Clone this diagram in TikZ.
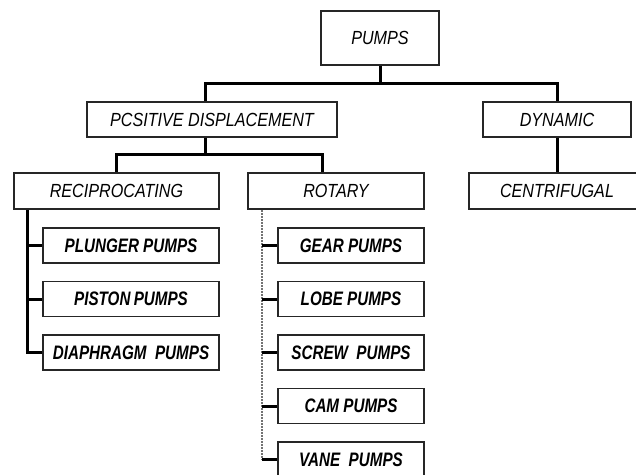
\documentclass[tikz,border=0pt]{standalone}
\usepackage{fontspec}
\usepackage{tikz}
\usetikzlibrary{calc}
\newfontfamily\topfont[FakeStretch=0.85]{Liberation Sans}
\newfontfamily\leaffont[FakeStretch=0.78]{Liberation Sans}

\begin{document}
\begin{tikzpicture}[x=1pt,y=-1pt]
            \tikzset{box/.style = {draw=black!85, line width=1.5pt, inner sep=0pt, font=\topfont\itshape\fontsize{19}{21}\selectfont}}
            \tikzset{leaf/.style = {box, minimum width=146pt, minimum height=35pt, font=\leaffont\bfseries\itshape\fontsize{19.5}{21}\selectfont}}
            \tikzset{edge/.style = {line width=3pt}}
            \tikzset{trunk/.style = {line width=2pt, black!55, densely dotted}}
            \useasboundingbox (0,0) rectangle (636,474);
            
            % boxes
            \node[box, minimum width=118pt, minimum height=54pt] (pumps) at (380,38) {PUMPS};
            \node[box, minimum width=250pt, minimum height=35pt] (posdisp) at (212,119.5) {PCSITIVE DISPLACEMENT};
            \node[box, minimum width=148pt, minimum height=35pt] (dynamic) at (557,119.5) {DYNAMIC};
            \node[box, minimum width=205pt, minimum height=36pt] (recip) at (116.5,191) {RECIPROCATING};
            \node[box, minimum width=176pt, minimum height=36pt] (rotary) at (336,191) {ROTARY};
            \node[box, minimum width=176pt, minimum height=36pt] (centrif) at (557,191) {CENTRIFUGAL};
            
            \foreach \n/\t [count=\i] in {plunger/PLUNGER PUMPS, piston/PISTON\,PUMPS, diaphragm/DIAPHRAGM\ \ PUMPS}
            {
              \node[leaf, minimum width=176pt] (\n) at (131,{245.5+53.5*(\i-1)}) {\t};
            }
            \foreach \n/\t [count=\i] in {gear/GEAR PUMPS, lobe/LOBE PUMPS, screw/SCREW\ \ PUMPS, cam/CAM PUMPS, vane/VANE\ \ PUMPS}
            {
              \node[leaf] (\n) at (351,{245.5+53.5*(\i-1)}) {\t};
            }
            
            % edges
            \draw[edge] (pumps.south) -- ++(0,18) -| ([xshift=-7pt]posdisp.north);
            \draw[edge] (pumps.south) ++(0,18) -| (dynamic.north);
            \draw[edge] ([xshift=-7pt]posdisp.south) -- ++(0,17) -| (recip.north);
            \draw[edge] ([xshift=-7pt]posdisp.south) ++(0,17) -| ([xshift=-14pt]rotary.north);
            \draw[edge] (dynamic.south) -- (centrif.north);
            
            \draw[line width=2.5pt] ([xshift=14pt]recip.south west) |- (diaphragm.west);
            \foreach \n in {plunger,piston} {\draw[edge] ([xshift=-15pt]\n.west) -- (\n.west);}
            
            \draw[trunk] ([xshift=15pt]rotary.south west) -- ([xshift=-15pt]vane.west);
            \foreach \n in {gear,lobe,screw,cam,vane} {\draw[edge] ([xshift=-15pt]\n.west) -- (\n.west);}
            
\end{tikzpicture}
\end{document}
